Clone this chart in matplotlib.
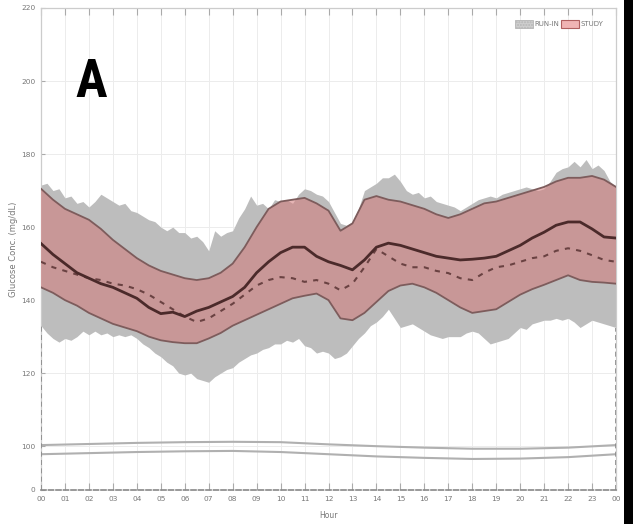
import numpy as np
import matplotlib
matplotlib.use("Agg")
import matplotlib.pyplot as plt
from matplotlib.patches import Patch, Rectangle

# ---------------- data ----------------
hours_q = np.arange(0, 24.01, 0.25)   # quarter-hour grid for run-in band
hours_h = np.arange(0, 24.01, 0.5)    # half-hour grid for study band / means
hours_ref = np.arange(0, 24.01, 2.0)  # reference lines

runin_upper = [171.5, 172, 170, 170.5, 168, 168.5, 166.5, 167, 165.5, 167, 169, 168,
               167, 166, 166.5, 164.5, 164, 163, 162, 161.5, 160, 159, 160, 158.5,
               158.5, 157, 157.5, 156, 153.5, 159, 157.5, 158.5, 159, 162.5, 165, 168.5,
               166, 166.5, 165, 167.5, 167, 167.5, 166.5, 169, 170.5, 170, 169, 168.5,
               167, 164, 161, 160.5, 161.5, 165, 170, 171, 172, 173.5, 173.5, 174.5,
               172.5, 170, 169, 169.5, 168, 168.5, 167, 166.5, 166, 165.5, 164.5, 165.5,
               166.5, 167.5, 168, 168.5, 168, 169, 169.5, 170, 170.5, 171, 170.5, 170,
               170.5, 172.5, 175, 176, 176.5, 178, 176.5, 178.5, 176, 177, 175.5, 172.5,
               171]
runin_lower = [133, 131, 129.5, 128.5, 129.5, 129, 130, 131.5, 130.5, 131.5, 130.5, 131,
               130, 130.5, 130, 130.5, 129.5, 128, 127, 125.5, 124.5, 123, 122, 120,
               119.5, 120, 118.5, 118, 117.5, 119, 120, 121, 121.5, 123, 124, 125,
               125.5, 126.5, 127, 128, 128, 129, 128.5, 129.5, 127.5, 127, 125.5, 126,
               125.5, 124, 124.5, 125.5, 127.5, 129.5, 131, 133, 134, 135.5, 137.5, 135,
               132.5, 133, 133.5, 132.5, 131.5, 130.5, 130, 129.5, 130, 130, 130, 131,
               131.5, 131, 129.5, 128, 128.5, 129, 129.5, 131, 132.5, 132, 133.5, 134,
               134.5, 134.5, 135, 134.5, 135, 134, 132.5, 133.5, 134.5, 134, 133.5, 133,
               132.5]

study_upper = [170.5, 167.5, 165, 163.5, 162, 159.5, 156.5, 154, 151.5, 149.5, 148, 147,
               146, 145.5, 146, 147.5, 150, 154.5, 160, 165, 167, 167.5, 168, 166.5,
               164.5, 159, 161, 167.5, 168.5, 167.5, 167, 166, 165, 163.5, 162.5, 163.5,
               165, 166.5, 167, 168, 169, 170, 171, 172.5, 173.5, 173.5, 174, 173, 171]
study_lower = [143.5, 142, 140, 138.5, 136.5, 135, 133.5, 132.5, 131.5, 130, 129, 128.5,
               128.2, 128.2, 129.5, 131, 133, 134.5, 136, 137.5, 139, 140.5, 141.2, 141.8,
               140, 135, 134.5, 136.5, 139.5, 142.5, 144, 144.5, 143.5, 142, 140, 138,
               136.5, 137, 137.5, 139.5, 141.5, 143, 144.2, 145.5, 146.8, 145.5, 145, 144.8,
               144.5]

study_mean = [155.5, 152.5, 150, 147.5, 146, 144.5, 143.5, 142, 140.5, 138, 136.3, 136.7,
              135.5, 137, 138, 139.5, 141, 143.5, 147.5, 150.5, 153, 154.5, 154.5, 152,
              150.5, 149.5, 148.3, 151, 154.5, 155.6, 155, 154, 153, 152, 151.5, 151,
              151.2, 151.5, 152, 153.5, 155, 157, 158.6, 160.5, 161.4, 161.4, 159.5, 157.3,
              157]
runin_mean = [150.5, 149, 148, 147, 146, 145.5, 144.5, 144, 143, 141.5, 139.5, 137.5,
              135.5, 134, 135, 137, 139, 141.5, 144, 145.5, 146.3, 146, 145, 145.5,
              144.5, 142.7, 144.5, 149, 154, 152, 150, 149, 149, 148, 147.4, 146,
              145.5, 147.5, 149, 149.5, 150.5, 151.5, 152, 153.5, 154.2, 153.5, 152.3, 151,
              150.5]

ref_upper = [100.3, 100.6, 100.9, 101.1, 101.2, 101.1, 100.5, 100.0, 99.6, 99.3, 99.3, 99.6, 100.3]
ref_lower = [97.8, 98.1, 98.4, 98.6, 98.7, 98.4, 97.8, 97.2, 96.8, 96.5, 96.6, 97.0, 97.8]

xtick_pos = list(range(0, 25))
xtick_labels = ["%02d" % (h % 24) for h in range(0, 25)]
ytick_pos = [88, 100, 120, 140, 160, 180, 200, 220]
ytick_labels = ["0", "100", "120", "140", "160", "180", "200", "220"]
legend_labels = ["RUN-IN", "STUDY"]

# ---------------- figure ----------------
fig = plt.figure(figsize=(6.33, 5.24), dpi=100)
ax = fig.add_axes([41/633, 1-490/524, 575/633, 482/524])

gray_fc = "#bdbdbd"
pink_fc = (210/255, 120/255, 120/255, 0.55)
edge_c = "#7d5c5c"

ax.fill_between(hours_q, runin_lower, runin_upper, color=gray_fc, lw=0, zorder=2)
ax.fill_between(hours_h, study_lower, study_upper, facecolor=pink_fc, edgecolor="none", zorder=3)
ax.plot(hours_h, study_upper, color=edge_c, lw=1.3, zorder=4)
ax.plot(hours_h, study_lower, color=edge_c, lw=1.3, zorder=4)
ax.plot(hours_h, runin_mean, color="#6a4242", lw=1.5, ls=(0, (2.5, 3)), zorder=5)
ax.plot(hours_h, study_mean, color="#4b2a2a", lw=2.0, zorder=6)

ax.plot(hours_ref, ref_upper, color="#b0b0b0", lw=1.5, zorder=3)
ax.plot(hours_ref, ref_lower, color="#b0b0b0", lw=1.5, zorder=3)

ax.set_xlim(0, 24)
ax.set_ylim(ytick_pos[0], ytick_pos[-1])

# dashed boundaries at start / end of day below the band
ax.vlines([hours_q[0], hours_q[-1]], ytick_pos[0], [runin_lower[0], runin_lower[-1]],
          colors="#888888", lw=1.2, linestyles=(0, (3, 2)), zorder=7)

ax.set_xticks(xtick_pos)
ax.set_xticklabels(xtick_labels)
ax.set_yticks(ytick_pos)
ax.set_yticklabels(ytick_labels)
ax.tick_params(axis="both", direction="in", length=5, width=0.8, color="#aaaaaa",
               labelsize=5.3, labelcolor="#777777", top=True, pad=4)
ax.tick_params(axis="y", length=3)

ax.grid(True, color="#ececec", lw=0.7, zorder=0)
ax.set_axisbelow(True)

for s in ["top", "left", "right"]:
    ax.spines[s].set_color("#cccccc")
    ax.spines[s].set_linewidth(0.9)
ax.spines["bottom"].set_color("#888888")
ax.spines["bottom"].set_linestyle((0, (3, 1.5)))
ax.spines["bottom"].set_linewidth(1.2)

ax.set_xlabel("Hour", fontsize=5.5, color="#777777", labelpad=7)
ax.set_ylabel("Glucose Conc. (mg/dL)", fontsize=6, color="#777777", labelpad=2)

ax.text(0.087, 0.846, "A", transform=ax.transAxes, fontsize=38, fontweight="bold",
        family=["Liberation Sans Narrow", "DejaVu Sans Condensed", "Roboto Condensed",
                "Liberation Sans", "DejaVu Sans"],
        ha="center", va="center", color="black", zorder=10)

handles = [Patch(facecolor="#cfcfcf", edgecolor="#b5b5b5", hatch="......", lw=0.6),
           Patch(facecolor="#f0b4b4", edgecolor="#b06060", lw=0.8)]
ax.legend(handles, legend_labels, loc="upper right", ncol=2, fontsize=5,
          frameon=False, handlelength=2.6, handleheight=1.2, columnspacing=0.3,
          handletextpad=0.2, borderaxespad=1.4, labelcolor="#777777")

# black strip at the right edge
fig.patches.append(Rectangle((624/633, 0), 9/633, 1, transform=fig.transFigure,
                             facecolor="black", edgecolor="none", zorder=20))

fig.savefig("out.png", dpi=100)
